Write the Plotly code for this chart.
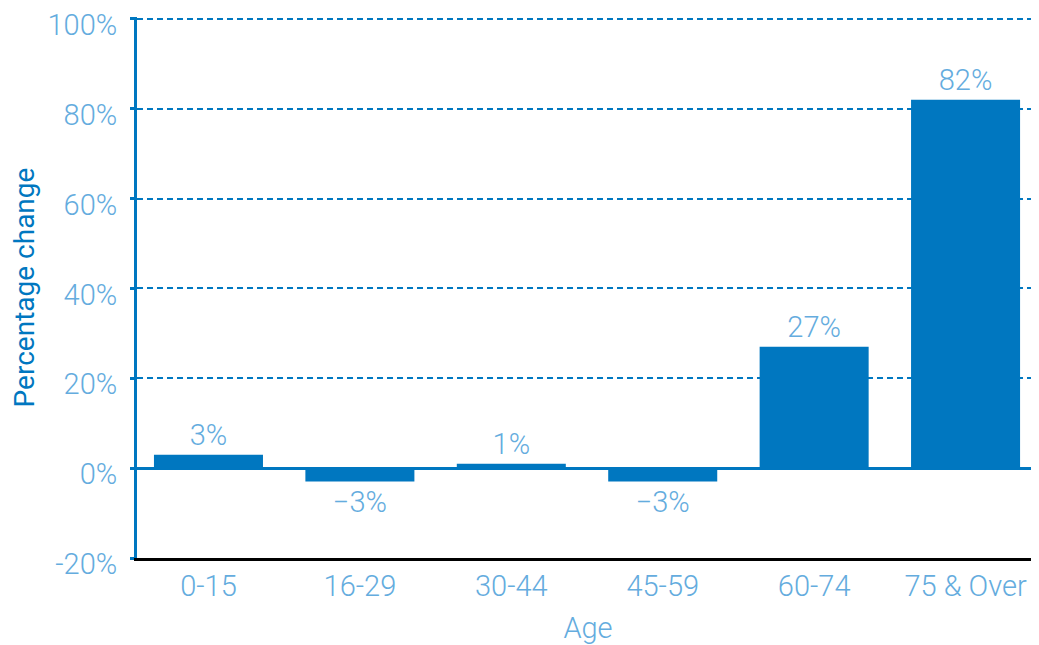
import plotly.graph_objects as go

categories = ["0-15", "16-29", "30-44", "45-59", "60-74", "75 & Over"]
values = [3, -3, 1, -3, 27, 82]
labels = ["3%", "\u22123%", "1%", "\u22123%", "27%", "82%"]
y_ticks = [-20, 0, 20, 40, 60, 80, 100]
y_ticktext = ["-20%", "0%", "20%", "40%", "60%", "80%", "100%"]

BLUE = "#0077C0"
LIGHT = "#64ACDE"
FONT = "Roboto"
FS = 29

fig = go.Figure(go.Bar(
    x=categories, y=values, text=labels, textposition="outside",
    marker=dict(color=BLUE, line=dict(width=0)), width=0.72,
    textfont=dict(color=LIGHT, size=FS, family=FONT, weight=300),
    cliponaxis=False,
))

fig.update_layout(
    width=1031, height=637,
    margin=dict(l=129, r=0, t=9, b=87),
    plot_bgcolor="white", paper_bgcolor="white",
    showlegend=False,
    font=dict(family=FONT, color=LIGHT),
    xaxis=dict(
        range=[-0.472, 5.485], automargin=False,
        showline=True, linecolor="black", linewidth=3,
        ticks="", showgrid=False,
        tickfont=dict(size=FS, color=LIGHT, family=FONT, weight=300),
        title=dict(text="Age", font=dict(size=FS, color=LIGHT, family=FONT, weight=300), standoff=24),
    ),
    yaxis=dict(
        range=[-20, 100.4], tickvals=y_ticks, ticktext=y_ticktext, automargin=False,
        showline=True, linecolor=BLUE, linewidth=3,
        ticks="outside", ticklen=4, tickcolor=BLUE, tickwidth=3,
        ticklabelstandoff=7, ticklabeloverflow="allow", ticklabelshift=6,
        showgrid=True, gridcolor=BLUE, gridwidth=2, griddash="6px,4px",
        zeroline=True, zerolinecolor=BLUE, zerolinewidth=3,
        tickfont=dict(size=FS, color=LIGHT, family=FONT, weight=300),
        title=dict(text="Percentage change", font=dict(size=28, color=BLUE, family=FONT), standoff=14),
    ),
)

fig.write_html("out.html")
